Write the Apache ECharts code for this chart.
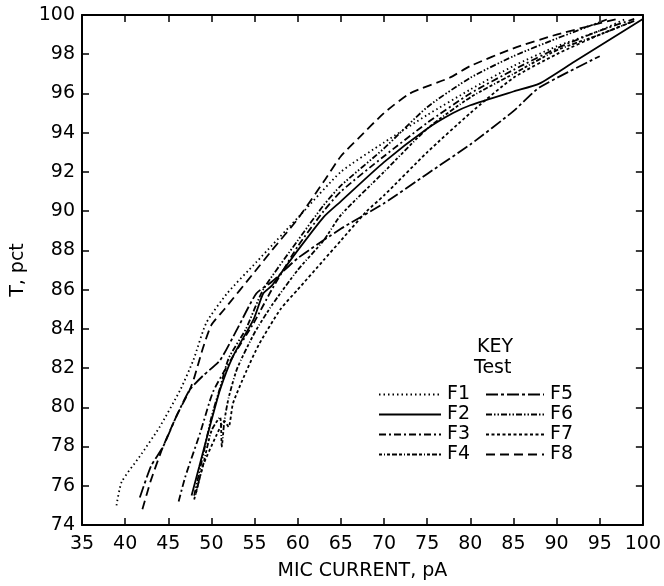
<!DOCTYPE html>
<html><head><meta charset="utf-8">
<script src="https://cdn.jsdelivr.net/npm/echarts@6/dist/echarts.min.js"></script>
<style>html,body{margin:0;padding:0;background:#fff}#c{width:664px;height:586px}</style>
</head><body><div id="c"></div>
<script>
var xTicks = [35,40,45,50,55,60,65,70,75,80,85,90,95,100];
var yTicks = [74,76,78,80,82,84,86,88,90,92,94,96,98,100];
var seriesNames = ['F1','F2','F3','F4','F5','F6','F7','F8'];

var F1 = [[39,75],[39.6,76.2],[41.7,77.5],[44,79],[46.4,80.9],[47.9,82.4],[49.4,84.3],[51.8,85.8],[55.2,87.4],[60.3,89.8],[65,92],[70,93.5],[75,94.9],[80,96.2],[85,97.4],[90,98.4],[95,99.2],[98,99.8]];
var F2 = [[47.7,75.5],[48.6,77],[49.8,79],[51,80.9],[52.5,82.6],[54.9,84.5],[56,85.8],[57,86.2],[58,86.8],[60,88],[63,89.7],[65,90.5],[70,92.5],[75,94.2],[78,95],[80,95.4],[85,96.1],[88,96.5],[92,97.6],[96,98.7],[100,99.8]];
var F3 = [[46.2,75.2],[47,76.5],[48.7,78.7],[50.2,80.8],[52.5,82.6],[54.9,84.3],[57,86],[60,88.2],[63,90],[65,91],[70,92.8],[75,94.5],[80,96],[85,97.2],[90,98.3],[95,99.2],[99,99.8]];
var F4 = [[48,75.3],[49,77],[50,78.8],[51,79.5],[51.2,78],[51.5,79.3],[52,80.5],[53,82],[55,83.8],[57,85.2],[60,87],[63,88.5],[65,89.8],[70,92],[75,94.2],[80,95.8],[85,97],[90,98.2],[95,99],[99,99.7]];
var F5 = [[41.7,75.4],[43,77],[44.4,78],[46,79.6],[47.5,80.9],[49,81.6],[51,82.4],[53,84],[55.2,85.8],[57,86.4],[60,87.6],[65,89.1],[70,90.4],[75,91.9],[80,93.4],[85,95.1],[88,96.3],[95,97.9]];
var F6 = [[48,75.5],[49,77.5],[50,79.5],[51,81],[52,82.5],[54,84],[56,86],[60,88.5],[63,90.3],[65,91.3],[70,93.2],[75,95.3],[80,96.8],[85,97.9],[90,98.8],[96,99.8]];
var F7 = [[48.2,75.6],[49,77],[50.5,78.5],[51.5,79.3],[52,79],[52.5,80.2],[54,81.8],[55.5,83.2],[58,85],[60,86],[63,87.5],[65,88.5],[68,90],[70,90.8],[75,93],[80,95],[85,96.8],[90,98],[95,99],[99,99.7]];
var F8 = [[42,74.8],[43,76.3],[44.4,78],[46,79.6],[47.5,80.9],[48,81.5],[49,83],[50,84.2],[51.5,85],[55,86.9],[57,88],[60,89.6],[63,91.5],[65,92.8],[67,93.7],[70,95],[73,96],[77.6,96.8],[80,97.4],[85,98.3],[90,99],[97,99.8]];

var seriesData = [F1,F2,F3,F4,F5,F6,F7,F8];
var dashes = [[1.5,3],'solid',[7,3,2,3],[3,2,1,2,3,2,5,2],[12,3,3,3],[6,2,1.5,2,1.5,2],[3,2.5],[9,5]];

var FONT = 'DejaVu Sans';
var FS = 19;
var chart = echarts.init(document.getElementById('c'), null, {renderer:'canvas'});
var axisCommon = {
  axisLine:{show:true,lineStyle:{color:'#000',width:2}},
  axisTick:{show:true,inside:true,length:7,lineStyle:{color:'#000',width:1.5}},
  splitLine:{show:false}
};
var series = seriesNames.map(function(n,i){
  return {name:n,type:'line',data:seriesData[i],symbol:'none',showSymbol:false,smooth:0.2,
    lineStyle:{color:'#000',width:1.8,type:dashes[i]},itemStyle:{color:'#000'},z:3,animation:false};
});
chart.setOption({
  animation:false,
  grid:{left:82,right:21,top:15,bottom:60,containLabel:false},
  xAxis:[
    Object.assign({type:'value',min:35,max:100,interval:5,position:'bottom',
      name:'MIC CURRENT, pA',nameLocation:'middle',nameGap:37,
      nameTextStyle:{fontFamily:FONT,fontSize:FS,color:'#000'},
      axisLabel:{fontFamily:FONT,fontSize:FS,color:'#000',margin:10}},axisCommon),
    Object.assign({type:'value',min:35,max:100,interval:5,position:'top',axisLabel:{show:false}},axisCommon)
  ],
  yAxis:[
    Object.assign({type:'value',min:74,max:100,interval:2,position:'left',
      name:'T, pct',nameLocation:'middle',nameGap:52,
      nameTextStyle:{fontFamily:FONT,fontSize:FS,color:'#000'},
      axisLabel:{fontFamily:FONT,fontSize:FS,color:'#000',margin:7}},axisCommon),
    Object.assign({type:'value',min:74,max:100,interval:2,position:'right',axisLabel:{show:false}},axisCommon)
  ],
  legend:[
    {data:['F1','F2','F3','F4'],orient:'vertical',left:373,top:380,itemWidth:62,itemHeight:14,itemGap:1,
      itemStyle:{opacity:0},textStyle:{fontFamily:FONT,fontSize:FS,color:'#000',padding:[0,0,0,1]}},
    {data:['F5','F6','F7','F8'],orient:'vertical',left:480,top:380,itemWidth:58,itemHeight:14,itemGap:1,
      itemStyle:{opacity:0},textStyle:{fontFamily:FONT,fontSize:FS,color:'#000',padding:[0,0,0,1]}}
  ],
  graphic:[
    {type:'text',left:477,top:338,style:{text:'KEY',font:FS+'px "'+FONT+'"',fill:'#000'}},
    {type:'text',left:474,top:359,style:{text:'Test',font:FS+'px "'+FONT+'"',fill:'#000'}}
  ],
  series:series
});
</script></body></html>
